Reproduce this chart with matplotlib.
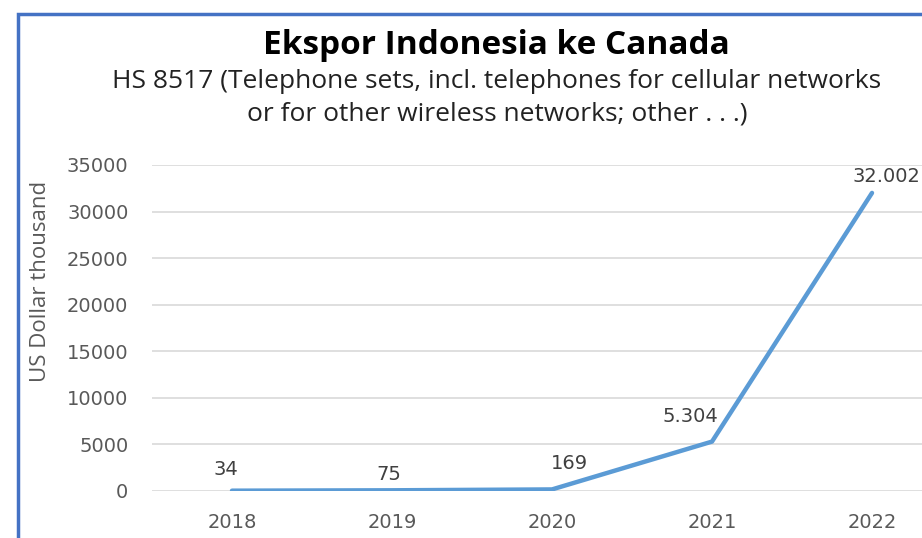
import matplotlib.pyplot as plt
from matplotlib.patches import Rectangle

# Data
years = ["2018", "2019", "2020", "2021", "2022"]
values = [34, 75, 169, 5304, 32002]
labels = ["34", "75", "169", "5.304", "32.002"]
# label offsets in pixels (dx, dy, ha)
label_offsets = [(-6, 21, "center"), (-3, 16, "center"), (17, 26, "center"),
                 (-22, 25, "center"), (-20, 16, "left")]

plt.rcParams["font.family"] = ["Open Sans", "DejaVu Sans"]
num_font = ["DejaVu Sans"]

W, H = 922, 538
fig = plt.figure(figsize=(W / 100, H / 100), dpi=100)
fig.patch.set_facecolor("white")

# blue frame around the chart (right and bottom fall outside the image)
fig.patches.append(Rectangle((18 / W, -0.1), 1.2, 1 - 14 / H + 0.1,
                             transform=fig.transFigure, fill=False,
                             edgecolor="#4472C4", linewidth=2.5))

ax = fig.add_axes([152 / W, 1 - 491 / H, 800 / W, 326 / H])
x = range(len(years))
ax.plot(x, values, color="#5B9BD5", linewidth=3.2, solid_capstyle="round",
        solid_joinstyle="round", zorder=3)

for i, (v, lab, (dx, dy, ha)) in enumerate(zip(values, labels, label_offsets)):
    ax.annotate(lab, (i, v), xytext=(dx, dy), textcoords="offset pixels",
                ha=ha, va="center", fontsize=14, color="#404040",
                family=num_font)

ax.set_xlim(-0.5, len(years) - 0.5)
ax.set_ylim(0, 35000)
ax.set_yticks(range(0, 35001, 5000))
ax.set_xticks(list(x))
ax.set_xticklabels(years)
for t in ax.get_xticklabels() + ax.get_yticklabels():
    t.set_family(num_font)
ax.grid(axis="y", color="#D9D9D9", linewidth=1.2)
ax.set_axisbelow(True)
for s in ax.spines.values():
    s.set_visible(False)
ax.tick_params(length=0, labelsize=14, labelcolor="#595959")
ax.tick_params(axis="y", pad=17)
ax.tick_params(axis="x", pad=15.5)
ax.set_ylabel("US Dollar thousand", fontsize=16, color="#595959")
ax.yaxis.set_label_coords((51 - 152) / 800, (491 - 281) / 326)

fig.text(496 / W, 1 - 46 / H, "Ekspor Indonesia ke Canada", ha="center",
         va="center", fontsize=24, fontweight="bold", color="black")
fig.text(497 / W, 1 - 98 / H,
         "HS 8517 (Telephone sets, incl. telephones for cellular networks\n"
         "or for other wireless networks; other . . .)",
         ha="center", va="center", fontsize=19, color="#222222",
         linespacing=1.42)

fig.savefig("out.png", dpi=100)
